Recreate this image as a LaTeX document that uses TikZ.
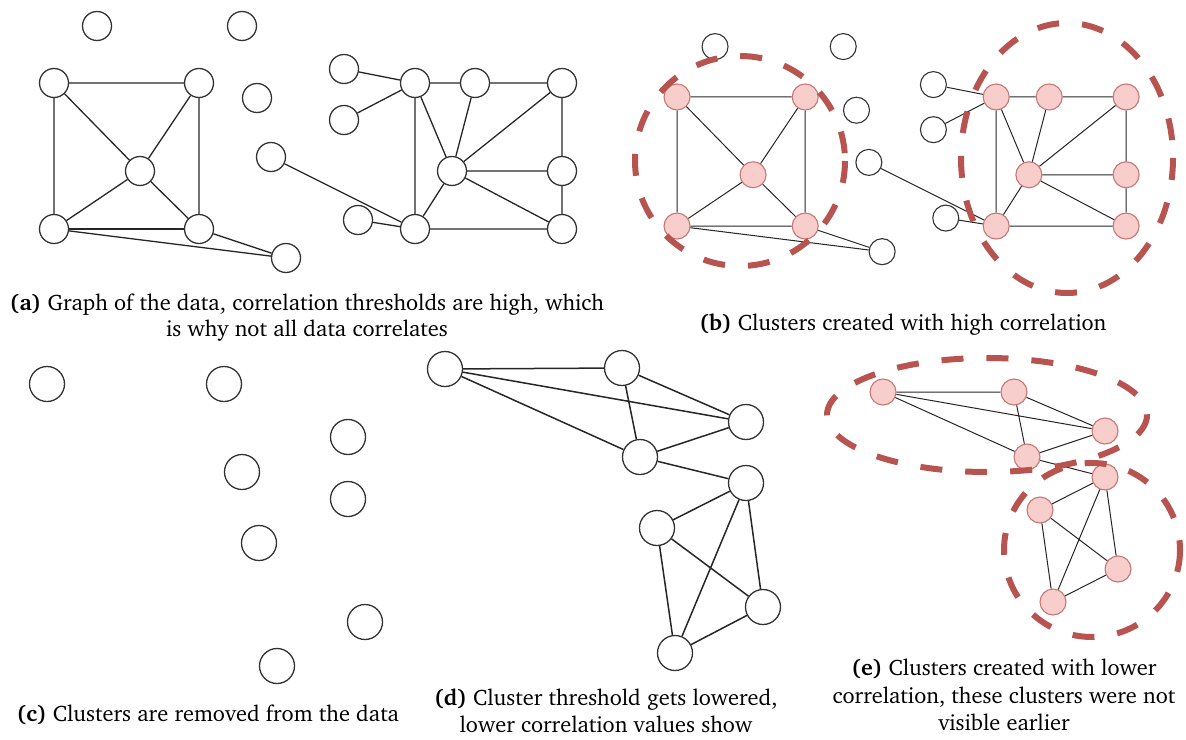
\documentclass[tikz,border=0pt]{standalone}
\usepackage[T1]{fontenc}
\usepackage{charter}
\definecolor{clfill}{HTML}{F8CECC}
\definecolor{clline}{HTML}{B85450}
\tikzset{
  vtx/.style={circle, draw=black!80, line width=1.3pt, fill=white, inner sep=0pt, minimum size=#1},
  vtx/.default=29pt,
  hot/.style={circle, draw=clline!80, line width=1.1pt, fill=clfill, inner sep=0pt, minimum size=#1},
  hot/.default=26pt,
  link/.style={line width=1.3pt, black!85},
  thin link/.style={line width=1pt, black!85},
  ring/.style={draw=clline, line width=6pt, dash pattern=on 22pt off 23pt},
  captionline/.style={font=\fontsize{22.4}{27.5}\selectfont, inner sep=0pt, anchor=base},
}
\begin{document}
\begin{tikzpicture}[x=1pt, y=-1pt]
\path[use as bounding box] (0,0) rectangle (1186,739);

% ---------- (a) full graph ----------
\node[vtx] (ai1) at (97,26) {};
\node[vtx] (ai2) at (242,26) {};
\node[vtx] (ai3) at (257,98) {};
\node[vtx] (ai4) at (271,157) {};
\node[vtx] (a1) at (54,83) {};
\node[vtx] (a2) at (199,83) {};
\node[vtx] (a3) at (140,171) {};
\node[vtx] (a4) at (54,229) {};
\node[vtx] (a5) at (199,229) {};
\node[vtx] (a6) at (286,258) {};
\node[vtx] (b1) at (344,69) {};
\node[vtx] (b2) at (344,120) {};
\node[vtx] (b3) at (415,83) {};
\node[vtx] (b4) at (475,83) {};
\node[vtx] (b5) at (562,83) {};
\node[vtx] (b6) at (452,171) {};
\node[vtx] (b7) at (562,171) {};
\node[vtx] (b8) at (358,220) {};
\node[vtx] (b9) at (415,229) {};
\node[vtx] (b10) at (562,229) {};
\draw[link] (a1) -- (a2) (a1) -- (a4) (a2) -- (a5) (a1) -- (a3) (a2) -- (a3)
  (a3) -- (a4) (a3) -- (a5) (a4) -- (a6) (a5) -- (a6);
\draw[link, line width=2.2pt] (a4) -- (a5);
\draw[link] (b1) -- (b3) (b2) -- (b3) (b3) -- (b4) (b4) -- (b5) (b3) -- (b9)
  (b3) -- (b6) (b4) -- (b6) (b5) -- (b6) (b5) -- (b7) (b6) -- (b7) (b6) -- (b10)
  (b7) -- (b10) (b6) -- (b9) (b9) -- (b10) (b8) -- (b9) (ai4) -- (b9);

% ---------- (b) clusters at high correlation ----------
\begin{scope}[shift={(629.3,23.6)}, scale=0.884]
\node[vtx=26pt, line width=1.1pt] (bi1) at (97,26) {};
\node[vtx=26pt, line width=1.1pt] (bi2) at (242,26) {};
\node[vtx=26pt, line width=1.1pt] (bi3) at (257,98) {};
\node[vtx=26pt, line width=1.1pt] (bi4) at (271,157) {};
\node[hot] (c1) at (54,83) {};
\node[hot] (c2) at (199,83) {};
\node[hot] (c3) at (140,171) {};
\node[hot] (c4) at (54,229) {};
\node[hot] (c5) at (199,229) {};
\node[vtx=26pt, line width=1.1pt] (c6) at (286,258) {};
\node[vtx=26pt, line width=1.1pt] (d1) at (344,69) {};
\node[vtx=26pt, line width=1.1pt] (d2) at (344,120) {};
\node[hot] (d3) at (415,83) {};
\node[hot] (d4) at (475,83) {};
\node[hot] (d5) at (562,83) {};
\node[hot] (d6) at (452,171) {};
\node[hot] (d7) at (562,171) {};
\node[vtx=26pt, line width=1.1pt] (d8) at (358,220) {};
\node[hot] (d9) at (415,229) {};
\node[hot] (d10) at (562,229) {};
\end{scope}
\draw[thin link] (c1) -- (c2) (c1) -- (c4) (c2) -- (c5) (c1) -- (c3) (c2) -- (c3)
  (c3) -- (c4) (c3) -- (c5) (c4) -- (c5) (c4) -- (c6) (c5) -- (c6);
\draw[thin link] (d1) -- (d3) (d2) -- (d3) (d3) -- (d4) (d4) -- (d5) (d3) -- (d9)
  (d3) -- (d6) (d4) -- (d6) (d5) -- (d6) (d5) -- (d7) (d6) -- (d7) (d6) -- (d10)
  (d7) -- (d10) (d6) -- (d9) (d9) -- (d10) (d8) -- (d9) (bi4) -- (d9);
\draw[ring] (740,161) ellipse [x radius=105, y radius=105];
\draw[ring] (1067,158) ellipse [x radius=106, y radius=135];

% ---------- (c) remaining data ----------
\node[vtx=35pt] (r1) at (47,384) {};
\node[vtx=35pt] (r2) at (224,384) {};
\node[vtx=35pt] (r3) at (348,437) {};
\node[vtx=35pt] (r4) at (242,472) {};
\node[vtx=35pt] (r5) at (348,499) {};
\node[vtx=35pt] (r6) at (259,543) {};
\node[vtx=35pt] (r7) at (365,622) {};
\node[vtx=35pt] (r8) at (277,666) {};

% ---------- (d) lowered threshold ----------
\node[vtx=35pt] (l1) at (445,369) {};
\node[vtx=35pt] (l2) at (622,368) {};
\node[vtx=35pt] (l3) at (746,422) {};
\node[vtx=35pt] (l4) at (640,457) {};
\node[vtx=35pt] (l5) at (746,483) {};
\node[vtx=35pt] (l6) at (657,528) {};
\node[vtx=35pt] (l7) at (763,607) {};
\node[vtx=35pt] (l8) at (675,653) {};
\draw[link, line width=1.5pt] (l1) -- (l2) (l1) -- (l3) (l1) -- (l4) (l2) -- (l3) (l2) -- (l4)
  (l4) -- (l3) (l4) -- (l5) (l5) -- (l6) (l5) -- (l7) (l5) -- (l8) (l6) -- (l7)
  (l6) -- (l8) (l7) -- (l8);

% ---------- (e) clusters at lower correlation ----------
\node[hot] (e1) at (883,392) {};
\node[hot] (e2) at (1014,392) {};
\node[hot] (e3) at (1105,431) {};
\node[hot] (e4) at (1027,457) {};
\node[hot] (e5) at (1105,477) {};
\node[hot] (e6) at (1040,510) {};
\node[hot] (e7) at (1118,569) {};
\node[hot] (e8) at (1053,602) {};
\draw[thin link] (e1) -- (e2) (e1) -- (e3) (e1) -- (e4) (e2) -- (e3) (e2) -- (e4)
  (e4) -- (e3) (e4) -- (e5) (e5) -- (e6) (e5) -- (e7) (e5) -- (e8) (e6) -- (e7)
  (e6) -- (e8) (e7) -- (e8);
\draw[ring] (987,415) ellipse [x radius=160, y radius=57];
\draw[ring] (1092,550) ellipse [x radius=88, y radius=87];

% ---------- captions ----------
\node[captionline] (capa1) at (307,310) {\textbf{(a)} Graph of the data, correlation thresholds are high, which};
\node[captionline] (capa2) at (307,336) {is why not all data correlates};
\node[captionline] (capb) at (903,330) {\textbf{(b)} Clusters created with high correlation};
\node[captionline] (capc) at (208,721) {\textbf{(c)} Clusters are removed from the data};
\node[captionline] (capd1) at (606,705) {\textbf{(d)} Cluster threshold gets lowered,};
\node[captionline] (capd2) at (606,732) {lower correlation values show};
\node[captionline] (cape1) at (1004,675) {\textbf{(e)} Clusters created with lower};
\node[captionline] (cape2) at (1004,703) {correlation, these clusters were not};
\node[captionline] (cape3) at (1004,730) {visible earlier};
\end{tikzpicture}
\end{document}
